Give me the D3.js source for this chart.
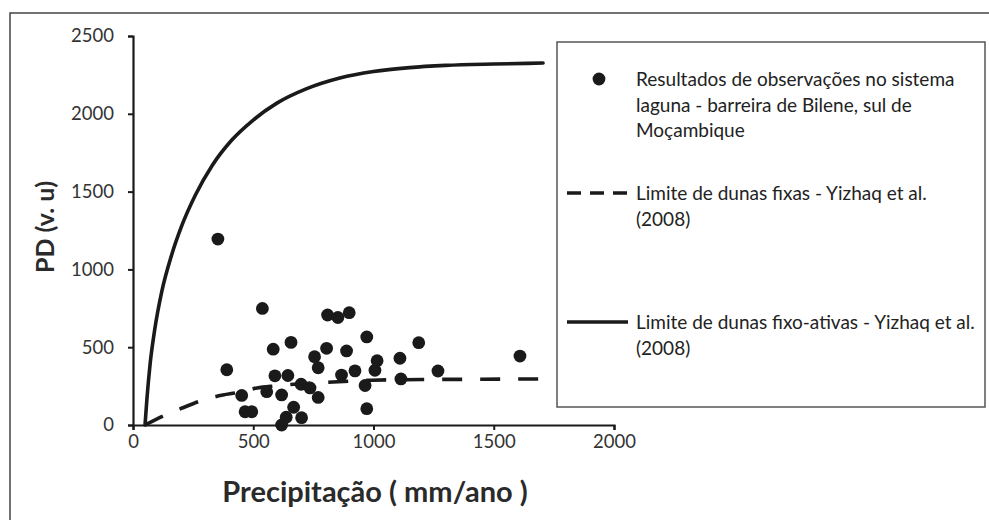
<!DOCTYPE html>
<html><head><meta charset="utf-8">
<script src="https://cdn.jsdelivr.net/npm/d3@7"></script>
<style>
body{margin:0;background:#fff;}
svg{display:block;}
text{font-family:Lato,"Open Sans",sans-serif;}
</style></head>
<body><svg id="chart" width="989" height="520"></svg>
<script>
// ---- data ----
const xTicks = [0, 500, 1000, 1500, 2000];
const yTicks = [0, 500, 1000, 1500, 2000, 2500];
const xTitle = "Precipitação ( mm/ano )";
const yTitle = "PD (v. u)";

// observations (precipitation mm/ano, PD v.u)
const obsP  = [353, 390, 452, 466, 494, 538, 556, 583, 590, 618, 618, 637, 644, 657, 668, 699, 701, 736, 755, 770, 770, 805, 809, 852, 867, 888, 899, 923, 965, 972, 972, 1006, 1015, 1110, 1114, 1188, 1268, 1609];
const obsPD = [1195, 355, 190, 85, 85, 749, 214, 487, 316, 193, 0, 50, 318, 531, 114, 262, 47, 238, 439, 177, 368, 493, 707, 691, 321, 476, 722, 348, 254, 566, 105, 352, 413, 429, 296, 529, 347, 443];

// Limite de dunas fixas (dashed)
const fixP  = [50, 125, 204, 279, 353, 445, 516, 590, 700, 832, 994, 1200, 1450, 1700];
const fixPD = [0, 58, 109, 154, 186, 212, 238, 251, 265, 276, 288, 292, 294, 296];

// Limite de dunas fixo-ativas (solid)
const actP  = [50, 58, 71, 90, 120, 160, 200, 260, 330, 410, 500, 600, 720, 860, 1000, 1150, 1300, 1500, 1705];
const actPD = [0, 170, 390, 610, 860, 1090, 1270, 1480, 1670, 1830, 1960, 2070, 2160, 2230, 2272, 2297, 2311, 2320, 2326];

const legendItems = [
  {type: "dot",   lines: ["Resultados de observações no sistema", "laguna - barreira de Bilene, sul de", "Moçambique"]},
  {type: "dash",  lines: ["Limite de dunas fixas - Yizhaq et al.", "(2008)"]},
  {type: "solid", lines: ["Limite de dunas fixo-ativas - Yizhaq et al.", "(2008)"]}
];

// ---- chart ----
const svg = d3.select("#chart");
const ink = "#1a1a1a";

svg.append("rect").attr("x", 10).attr("y", 13).attr("width", 1100).attr("height", 700)
  .attr("fill", "#fff").attr("stroke", "#444").attr("stroke-width", 1.5);

const x = d3.scaleLinear().domain([0, 2000]).range([133, 614]);
const y = d3.scaleLinear().domain([0, 2500]).range([425, 36]);

const gy = svg.append("g").attr("transform", "translate(133,0)")
  .call(d3.axisLeft(y).tickValues(yTicks).tickSize(5).tickPadding(14).tickFormat(d3.format("d")));
const gx = svg.append("g").attr("transform", "translate(0,425)")
  .call(d3.axisBottom(x).tickValues(xTicks).tickSize(5).tickPadding(5).tickFormat(d3.format("d")));
[gx, gy].forEach(g => {
  g.select(".domain").attr("stroke", ink).attr("stroke-width", 2.2);
  g.selectAll(".tick line").attr("stroke", ink).attr("stroke-width", 2);
  g.selectAll(".tick text").attr("fill", "#333").style("font-size", "18.5px").style("font-family", "Lato");
});

const line = d3.line().x(d => x(d[0])).y(d => y(d[1])).curve(d3.curveMonotoneX);

svg.append("path").datum(fixP.map((p, i) => [p, fixPD[i]]))
  .attr("d", line).attr("fill", "none").attr("stroke", ink)
  .attr("stroke-width", 3.6).attr("stroke-dasharray", "20,18");

svg.append("path").datum(actP.map((p, i) => [p, actPD[i]]))
  .attr("d", line).attr("fill", "none").attr("stroke", ink)
  .attr("stroke-width", 3.6).attr("stroke-linecap", "round");

svg.append("g").selectAll("circle").data(obsP.map((p, i) => [p, obsPD[i]]))
  .join("circle").attr("cx", d => x(d[0])).attr("cy", d => y(d[1])).attr("r", 6.4).attr("fill", ink);

// axis titles
svg.append("text").attr("x", 375).attr("y", 502).attr("text-anchor", "middle")
  .attr("fill", "#2a2a2a").style("font-size", "29px").style("font-weight", "700").text(xTitle);
svg.append("text").attr("transform", "translate(54,227) rotate(-90)").attr("text-anchor", "middle")
  .attr("fill", "#2a2a2a").style("font-size", "25px").style("font-weight", "700").text(yTitle);

// legend
const lg = svg.append("g");
lg.append("rect").attr("x", 557).attr("y", 42).attr("width", 428).attr("height", 365)
  .attr("fill", "#fff").attr("stroke", "#555").attr("stroke-width", 1.5);
const itemY = [79, 193, 322];
legendItems.forEach((it, i) => {
  const cy = itemY[i];
  if (it.type === "dot") lg.append("circle").attr("cx", 599).attr("cy", cy).attr("r", 6.4).attr("fill", ink);
  else lg.append("line").attr("x1", 567).attr("x2", 628).attr("y1", cy).attr("y2", cy)
    .attr("stroke", ink).attr("stroke-width", 3.4)
    .attr("stroke-dasharray", it.type === "dash" ? "14,9" : null);
  it.lines.forEach((t, j) => {
    lg.append("text").attr("x", 636).attr("y", cy + 7 + j * 25.5)
      .attr("fill", "#222").style("font-size", "19px").text(t);
  });
});
</script></body></html>
